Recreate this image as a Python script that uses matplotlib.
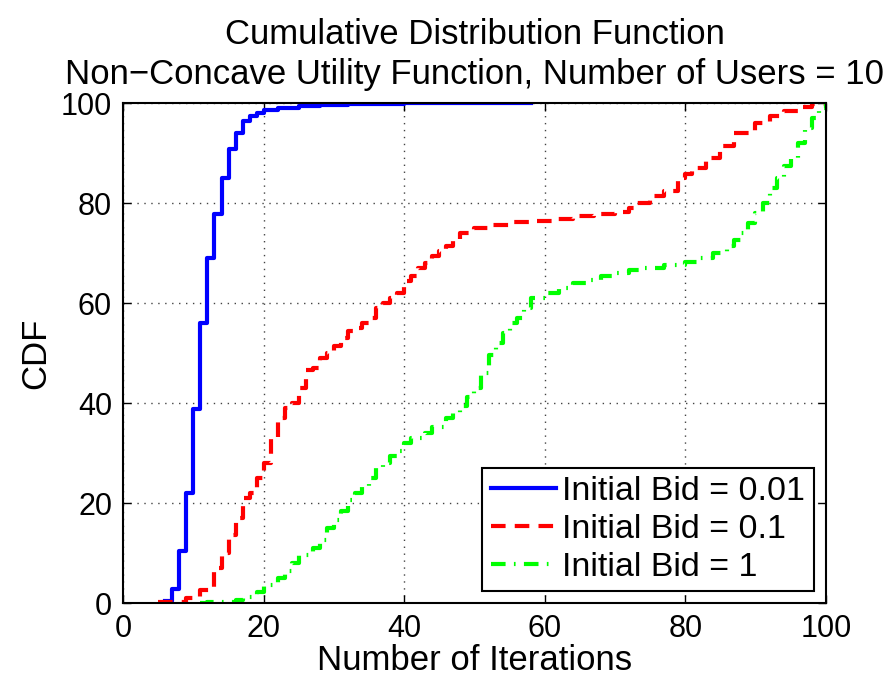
import matplotlib
matplotlib.use('Agg')
from matplotlib import pyplot as plt

# iterations (x) and CDF (%) values
blue_x = [6, 7, 8, 9, 10, 11, 12, 13, 14, 15, 16, 17, 18, 19, 20, 22, 25, 28, 32, 40, 58]
blue_y = [0.4, 2.8, 10.4, 22, 38.8, 56, 69, 77.8, 85, 90.8, 94, 96.4, 97.4, 98, 98.6,
          99, 99.4, 99.7, 99.9, 100, 100]

red_x = [5, 9, 11, 13, 14, 15, 16, 17, 18, 19, 20, 21, 22, 23, 24, 25, 26, 27, 28, 29,
         30, 31, 32, 33, 34, 35, 36, 37, 38, 39, 40, 41, 42, 43, 44, 45, 46, 47, 48, 50,
         52, 55, 58, 61, 64, 67, 70, 72, 73, 75, 77, 79, 80, 81, 83, 85, 87, 90, 92, 94,
         96, 98, 100]
red_y = [0.2, 1, 2.6, 7, 10, 13.6, 17, 21, 22, 25, 28, 33, 37, 39, 40, 43, 46.6, 47, 49,
         50, 51.5, 53, 54.5, 55, 56, 57, 59, 60, 61, 62, 64.5, 65.5, 67, 68, 69.5, 70.5,
         71.5, 72.5, 74, 75, 75.6, 76.2, 76.4, 76.8, 77.4, 77.8, 78.2, 79, 80, 81.5, 82.5,
         85, 85.8, 87, 89, 91.5, 94, 96, 97.5, 98.5, 99.2, 99.8, 100]

green_x = [11, 12, 16, 17, 19, 20, 22, 23, 24, 25, 27, 28, 29, 30, 31, 32, 33, 34, 35, 36,
           37, 38, 39, 40, 41, 43, 44, 46, 47, 48, 49, 50, 51, 52, 53, 54, 55, 56, 57, 58,
           60, 62, 64, 66, 68, 70, 72, 74, 77, 80, 82, 84, 86, 87, 88, 89, 90, 91, 92, 93,
           94, 95, 96, 97, 98, 99, 100]
green_y = [0, 0.2, 0.6, 1.2, 2.2, 3.6, 5, 6.4, 8, 9.6, 11, 12.6, 15, 16.6, 18.5, 20.6, 22,
           23.2, 25, 27, 28, 29.5, 30.4, 32, 33, 34, 35.2, 37, 38, 39.5, 41.2, 43, 46, 49.6,
           52, 54, 56, 57, 59, 61, 62, 63, 64, 64.6, 65.5, 66, 66.6, 67, 67.6, 68.2, 69, 70,
           71.5, 72.6, 74, 76, 78, 80, 83, 85, 87.5, 89, 92, 95, 97, 99, 100]

labels = ['Initial Bid = 0.01', 'Initial Bid = 0.1', 'Initial Bid = 1']

plt.rcParams['font.family'] = ['Liberation Sans', 'DejaVu Sans']

fig = plt.figure(figsize=(8.86, 6.83), dpi=100)
ax = fig.add_axes([0.139, 0.117, 0.793, 0.732])

ax.plot(blue_x, blue_y, color='#0000ff', lw=3, drawstyle='steps-post', label=labels[0])
ax.plot(red_x, red_y, color='#ff0000', lw=3, drawstyle='steps-post',
        linestyle=(0, (3.5, 2.2)), label=labels[1])
ax.plot(green_x, green_y, color='#00ff00', lw=3, drawstyle='steps-post',
        linestyle=(0, (3.5, 2.0, 0.4, 2.0)), label=labels[2])

ax.set_xlim(0, 100)
ax.set_ylim(0, 100)
ax.set_xticks(range(0, 101, 20))
ax.set_yticks(range(0, 101, 20))
ax.tick_params(direction='in', top=True, right=True, labelsize=22, length=6, width=1, pad=8)
ax.grid(True, linestyle=(0, (1, 4)), color='#444444', linewidth=1)
for s in ax.spines.values():
    s.set_linewidth(1.5)

ax.set_xlabel('Number of Iterations', fontsize=25, labelpad=0)
ax.set_ylabel('CDF', fontsize=25, labelpad=6)
ax.set_title('Cumulative Distribution Function\nNon\u2212Concave Utility Function, Number of Users = 10',
             fontsize=25, pad=14, linespacing=1.25)

leg = ax.legend(loc='lower right', fontsize=24.5, handlelength=1.9, handletextpad=0.2,
                borderpad=0.25, labelspacing=0.2, borderaxespad=0.35, fancybox=False,
                framealpha=1)
leg.get_frame().set_edgecolor('black')
leg.get_frame().set_linewidth(1.5)

plt.savefig('out.png', dpi=100)
plt.close()
